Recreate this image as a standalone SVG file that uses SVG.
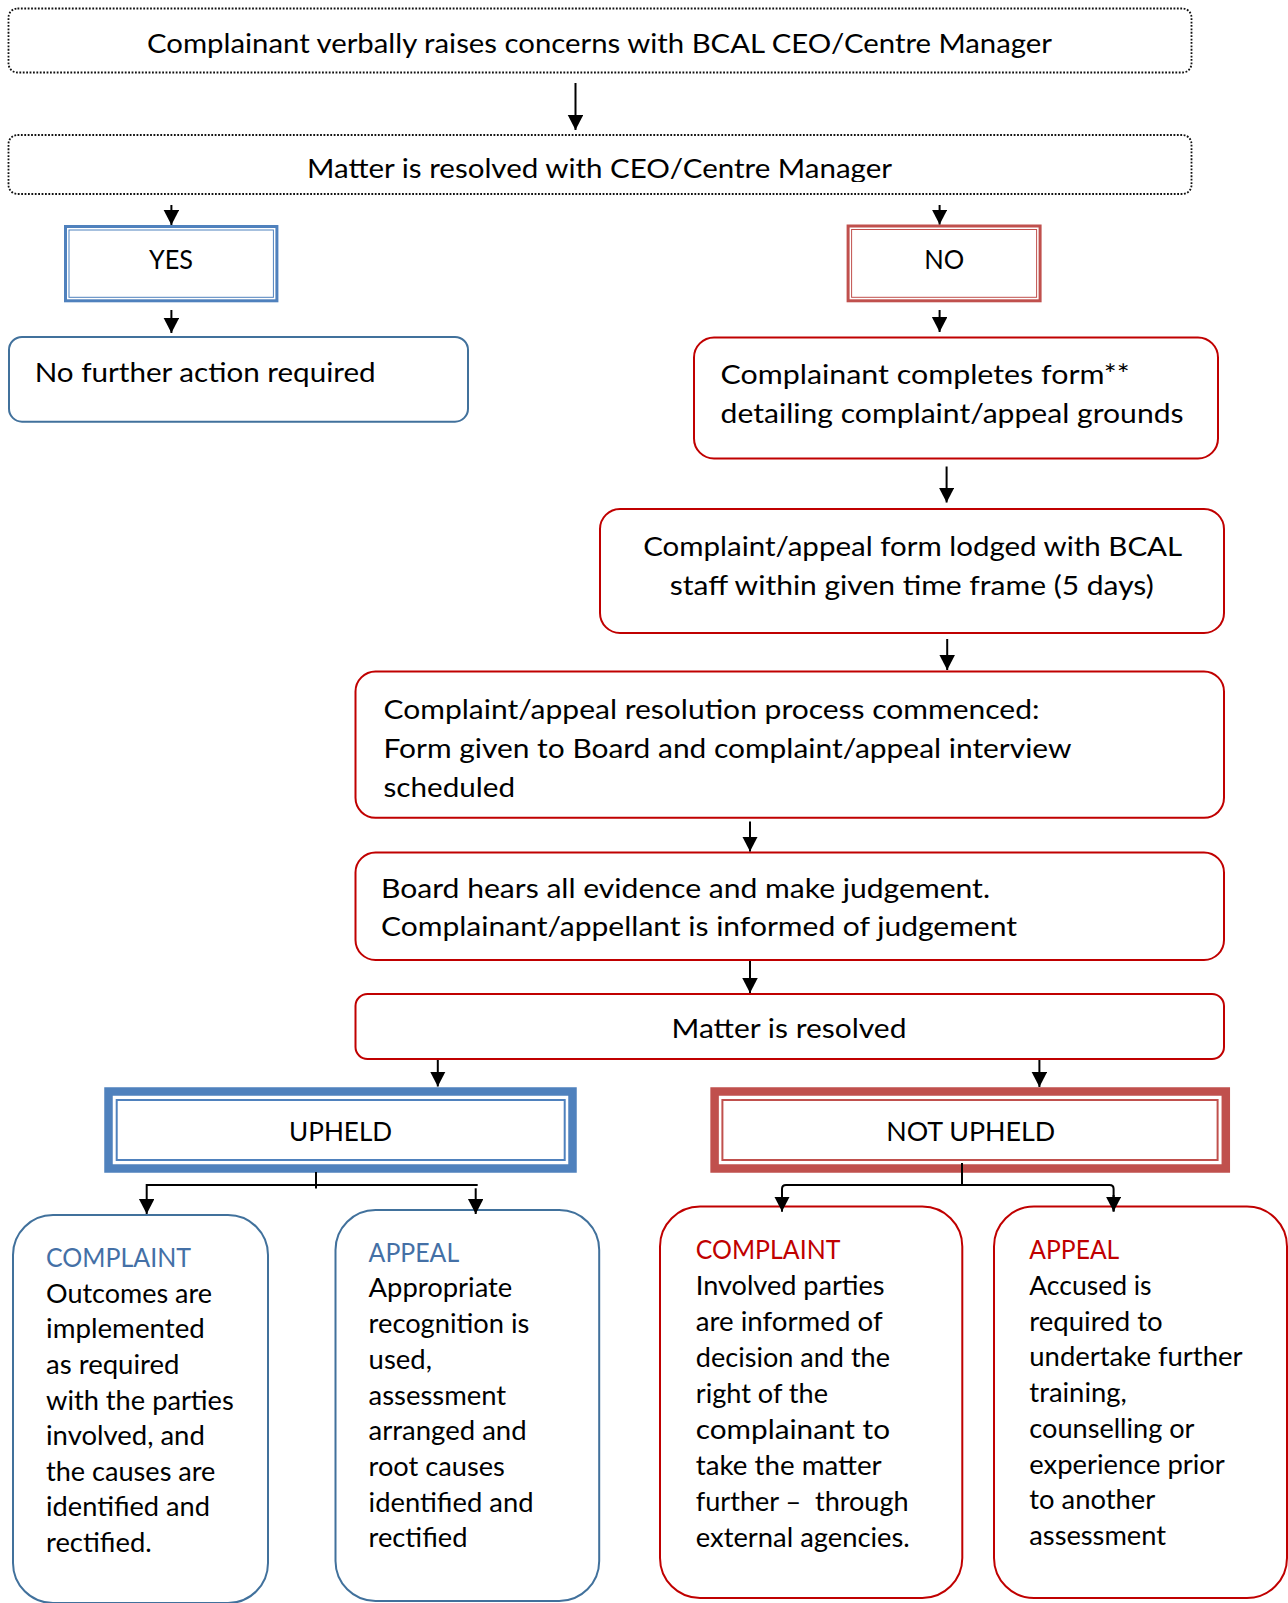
<svg xmlns="http://www.w3.org/2000/svg" width="1288" height="1603" viewBox="0 0 1288 1603">
<style>
.t{font-family:Lato,"Open Sans","Liberation Sans",sans-serif;font-size:26.5px;fill:#000}
.c{text-anchor:middle}
.dot{fill:#fff;stroke:#111;stroke-width:1.8;stroke-dasharray:1.8 1.6}
.bl{fill:#fff;stroke:#41719C;stroke-width:2}
.rd{fill:#fff;stroke:#C00000;stroke-width:2}
.dbB{fill:none;stroke:#4F81BD}
.dbR{fill:none;stroke:#C0504D}
.hb{fill:#4470A6}
.hr{fill:#C00000}
.ln{fill:none;stroke:#000;stroke-width:2}
</style>
<defs>
<marker id="ah" markerUnits="userSpaceOnUse" markerWidth="16" markerHeight="16" refX="15" refY="7.75" orient="auto">
<path d="M0,0 L15,7.75 L0,15.5 z" fill="#000"/>
</marker>
<clipPath id="clip2"><rect x="9" y="136" width="1183" height="46"/></clipPath>
</defs>
<rect width="1288" height="1603" fill="#fff"/>

<g id="n-verbal">
<rect class="dot" x="8.5" y="8.5" width="1183" height="64" rx="9"/>
<text class="t c" x="599.5" y="52.7" textLength="905" lengthAdjust="spacingAndGlyphs">Complainant verbally raises concerns with BCAL CEO/Centre Manager</text>
</g>

<g id="n-resolved-ceo">
<rect class="dot" x="8.5" y="135" width="1183" height="59" rx="9"/>
<text class="t c" x="599.5" y="178.3" textLength="585" lengthAdjust="spacingAndGlyphs" clip-path="url(#clip2)">Matter is resolved with CEO/Centre Manager</text>
</g>

<g id="n-yes">
<rect x="64" y="225" width="214.4" height="77.3" fill="#fff"/>
<rect class="dbB" x="65.5" y="226.5" width="211.4" height="74.3" stroke-width="3"/>
<rect class="dbB" x="69" y="230" width="204.4" height="67.3" stroke-width="1"/>
<text class="t c" x="171" y="269.3" textLength="44" lengthAdjust="spacingAndGlyphs">YES</text>
</g>

<g id="n-no">
<rect x="846.6" y="224.5" width="195" height="77.8" fill="#fff"/>
<rect class="dbR" x="848.1" y="226" width="192" height="74.8" stroke-width="3"/>
<rect class="dbR" x="851.6" y="229.5" width="185" height="67.8" stroke-width="1"/>
<text class="t c" x="944.2" y="269.3" textLength="40" lengthAdjust="spacingAndGlyphs">NO</text>
</g>

<g id="n-nfa">
<rect class="bl" x="9" y="337" width="459" height="84.7" rx="13"/>
<text class="t" x="34.7" y="381.7" textLength="341" lengthAdjust="spacingAndGlyphs">No further action required</text>
</g>

<g id="n-form">
<rect class="rd" x="694" y="337.5" width="524" height="121" rx="20"/>
<text class="t" x="720.6" y="384" textLength="409" lengthAdjust="spacingAndGlyphs">Complainant completes form**</text>
<text class="t" x="720.6" y="422.7" textLength="463" lengthAdjust="spacingAndGlyphs">detailing complaint/appeal grounds</text>
</g>

<g id="n-lodged">
<rect class="rd" x="600" y="509" width="624" height="124" rx="20"/>
<text class="t c" x="912.7" y="556" textLength="539" lengthAdjust="spacingAndGlyphs">Complaint/appeal form lodged with BCAL</text>
<text class="t c" x="911.7" y="595" textLength="484" lengthAdjust="spacingAndGlyphs">staff within given time frame (5 days)</text>
</g>

<g id="n-process">
<rect class="rd" x="355.5" y="671.5" width="868.5" height="146.3" rx="20"/>
<text class="t" x="383.5" y="719.3" textLength="656" lengthAdjust="spacingAndGlyphs">Complaint/appeal resolution process commenced:</text>
<text class="t" x="383.5" y="758.3" textLength="688" lengthAdjust="spacingAndGlyphs">Form given to Board and complaint/appeal interview</text>
<text class="t" x="383.5" y="796.7" textLength="131.5" lengthAdjust="spacingAndGlyphs">scheduled</text>
</g>

<g id="n-board">
<rect class="rd" x="355.5" y="852.5" width="868.5" height="107.5" rx="20"/>
<text class="t" x="381" y="898.3" textLength="609" lengthAdjust="spacingAndGlyphs">Board hears all evidence and make judgement.</text>
<text class="t" x="381" y="936" textLength="636" lengthAdjust="spacingAndGlyphs">Complainant/appellant is informed of judgement</text>
</g>

<g id="n-matter">
<rect class="rd" x="355.5" y="994" width="868.5" height="65" rx="12"/>
<text class="t c" x="789" y="1038.3" textLength="235" lengthAdjust="spacingAndGlyphs">Matter is resolved</text>
</g>

<g id="n-upheld">
<rect x="104.3" y="1087.3" width="472.4" height="85.4" fill="#fff"/>
<rect class="dbB" x="108.5" y="1091.5" width="464" height="77" stroke-width="8.5"/>
<rect class="dbB" x="116.7" y="1100" width="448" height="60" stroke-width="2"/>
<text class="t c" x="340.6" y="1140.7" textLength="103" lengthAdjust="spacingAndGlyphs">UPHELD</text>
</g>

<g id="n-notupheld">
<rect x="710.4" y="1087.3" width="519.6" height="85.4" fill="#fff"/>
<rect class="dbR" x="714.6" y="1091.5" width="511.2" height="77" stroke-width="8.5"/>
<rect class="dbR" x="722.4" y="1100" width="495.2" height="60" stroke-width="2"/>
<text class="t c" x="970.7" y="1140.7" textLength="169" lengthAdjust="spacingAndGlyphs">NOT UPHELD</text>
</g>

<g id="n-up-complaint">
<rect class="bl" x="13" y="1215" width="255" height="388" rx="40"/>
<text class="t hb" x="46" y="1266.7" textLength="145" lengthAdjust="spacingAndGlyphs">COMPLAINT</text>
<text class="t" x="46" y="1302.7" textLength="166" lengthAdjust="spacingAndGlyphs">Outcomes are</text>
<text class="t" x="46" y="1338.3" textLength="158.8" lengthAdjust="spacingAndGlyphs">implemented</text>
<text class="t" x="46" y="1373.9" textLength="133.5" lengthAdjust="spacingAndGlyphs">as required</text>
<text class="t" x="46" y="1409.5" textLength="187.8" lengthAdjust="spacingAndGlyphs">with the parties</text>
<text class="t" x="46" y="1445.1" textLength="158.8" lengthAdjust="spacingAndGlyphs">involved, and</text>
<text class="t" x="46" y="1480.7" textLength="169.4" lengthAdjust="spacingAndGlyphs">the causes are</text>
<text class="t" x="46" y="1516.3" textLength="164" lengthAdjust="spacingAndGlyphs">identified and</text>
<text class="t" x="46" y="1551.9" textLength="105.7" lengthAdjust="spacingAndGlyphs">rectified.</text>
</g>

<g id="n-up-appeal">
<rect class="bl" x="335.5" y="1210" width="263.7" height="391" rx="40"/>
<text class="t hb" x="368.6" y="1261.7" textLength="90.6" lengthAdjust="spacingAndGlyphs">APPEAL</text>
<text class="t" x="368.6" y="1297.4" textLength="143.7" lengthAdjust="spacingAndGlyphs">Appropriate</text>
<text class="t" x="368.6" y="1333.1" textLength="160.8" lengthAdjust="spacingAndGlyphs">recognition is</text>
<text class="t" x="368.6" y="1368.8" textLength="63.3" lengthAdjust="spacingAndGlyphs">used,</text>
<text class="t" x="368.6" y="1404.5" textLength="137.6" lengthAdjust="spacingAndGlyphs">assessment</text>
<text class="t" x="368.6" y="1440.2" textLength="158" lengthAdjust="spacingAndGlyphs">arranged and</text>
<text class="t" x="368.6" y="1475.9" textLength="136.3" lengthAdjust="spacingAndGlyphs">root causes</text>
<text class="t" x="368.6" y="1511.6" textLength="164.9" lengthAdjust="spacingAndGlyphs">identified and</text>
<text class="t" x="368.6" y="1547.3" textLength="98.8" lengthAdjust="spacingAndGlyphs">rectified</text>
</g>

<g id="n-nu-complaint">
<rect class="rd" x="660" y="1206.5" width="302.3" height="391.5" rx="40"/>
<text class="t hr" x="695.8" y="1259.3" textLength="144.6" lengthAdjust="spacingAndGlyphs">COMPLAINT</text>
<text class="t" x="695.8" y="1295.2" textLength="188.8" lengthAdjust="spacingAndGlyphs">Involved parties</text>
<text class="t" x="695.8" y="1331.1" textLength="186.8" lengthAdjust="spacingAndGlyphs">are informed of</text>
<text class="t" x="695.8" y="1367" textLength="194.2" lengthAdjust="spacingAndGlyphs">decision and the</text>
<text class="t" x="695.8" y="1402.9" textLength="132.2" lengthAdjust="spacingAndGlyphs">right of the</text>
<text class="t" x="695.8" y="1438.8" textLength="194.2" lengthAdjust="spacingAndGlyphs">complainant to</text>
<text class="t" x="695.8" y="1474.7" textLength="185.9" lengthAdjust="spacingAndGlyphs">take the matter</text>
<text class="t" x="695.8" y="1510.6" textLength="212.8" lengthAdjust="spacingAndGlyphs" xml:space="preserve">further –  through</text>
<text class="t" x="695.8" y="1546.5" textLength="214" lengthAdjust="spacingAndGlyphs">external agencies.</text>
</g>

<g id="n-nu-appeal">
<rect class="rd" x="994" y="1206.5" width="293" height="391.5" rx="40"/>
<text class="t hr" x="1029.3" y="1259.3" textLength="90" lengthAdjust="spacingAndGlyphs">APPEAL</text>
<text class="t" x="1029.3" y="1295" textLength="122.3" lengthAdjust="spacingAndGlyphs">Accused is</text>
<text class="t" x="1029.3" y="1330.7" textLength="133.4" lengthAdjust="spacingAndGlyphs">required to</text>
<text class="t" x="1029.3" y="1366.4" textLength="213.2" lengthAdjust="spacingAndGlyphs">undertake further</text>
<text class="t" x="1029.3" y="1402.1" textLength="97.5" lengthAdjust="spacingAndGlyphs">training,</text>
<text class="t" x="1029.3" y="1437.8" textLength="165.2" lengthAdjust="spacingAndGlyphs">counselling or</text>
<text class="t" x="1029.3" y="1473.5" textLength="195.4" lengthAdjust="spacingAndGlyphs">experience prior</text>
<text class="t" x="1029.3" y="1509.2" textLength="126" lengthAdjust="spacingAndGlyphs">to another</text>
<text class="t" x="1029.3" y="1544.9" textLength="136.7" lengthAdjust="spacingAndGlyphs">assessment</text>
</g>

<g id="connectors">
<line class="ln" x1="575.5" y1="83" x2="575.5" y2="130" marker-end="url(#ah)"/>
<line class="ln" x1="171.4" y1="205" x2="171.4" y2="225" marker-end="url(#ah)"/>
<line class="ln" x1="939.6" y1="205" x2="939.6" y2="224.5" marker-end="url(#ah)"/>
<line class="ln" x1="171.4" y1="310" x2="171.4" y2="333" marker-end="url(#ah)"/>
<line class="ln" x1="939.6" y1="310" x2="939.6" y2="332" marker-end="url(#ah)"/>
<line class="ln" x1="946.6" y1="466.5" x2="946.6" y2="502.5" marker-end="url(#ah)"/>
<line class="ln" x1="947.2" y1="639" x2="947.2" y2="670" marker-end="url(#ah)"/>
<line class="ln" x1="750" y1="821.5" x2="750" y2="851.5" marker-end="url(#ah)"/>
<line class="ln" x1="750" y1="961" x2="750" y2="993" marker-end="url(#ah)"/>
<line class="ln" x1="437.8" y1="1060" x2="437.8" y2="1086.5" marker-end="url(#ah)"/>
<line class="ln" x1="1039.4" y1="1060" x2="1039.4" y2="1087" marker-end="url(#ah)"/>
<line class="ln" x1="316" y1="1172" x2="316" y2="1188.5"/>
<line class="ln" x1="146.7" y1="1185" x2="477.7" y2="1185"/>
<line class="ln" x1="146.7" y1="1184" x2="146.7" y2="1214" marker-end="url(#ah)"/>
<line class="ln" x1="475.7" y1="1188.3" x2="475.7" y2="1214" marker-end="url(#ah)"/>
<line class="ln" x1="962" y1="1163" x2="962" y2="1185"/>
<path class="ln" d="M782,1211.5 L782,1189 Q782,1185 786,1185 L1109.6,1185 Q1113.6,1185 1113.6,1189 L1113.6,1211.5"/>
<line class="ln" x1="782" y1="1195" x2="782" y2="1211.5" marker-end="url(#ah)"/>
<line class="ln" x1="1113.6" y1="1195" x2="1113.6" y2="1211.5" marker-end="url(#ah)"/>
</g>
</svg>
